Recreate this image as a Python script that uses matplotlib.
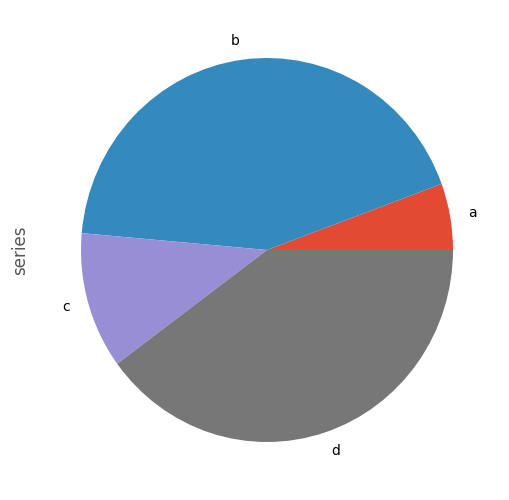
import matplotlib
matplotlib.use("Agg")
import matplotlib.pyplot as plt
import pandas as pd

plt.style.use("ggplot")

labels = ["a", "b", "c", "d"]
values = [0.056, 0.430, 0.115, 0.399]

series = pd.Series(values, index=labels, name="series")

fig = plt.figure(figsize=(5.09, 5.0), dpi=100)
ax = fig.add_axes([34.5 / 509, 10 / 500, 465 / 509, 480 / 500])
series.plot.pie(ax=ax)
ax.set_aspect("auto")
ax.set_ylabel("series", color="#555555", fontsize=12)

fig.savefig("out.png", dpi=100)
